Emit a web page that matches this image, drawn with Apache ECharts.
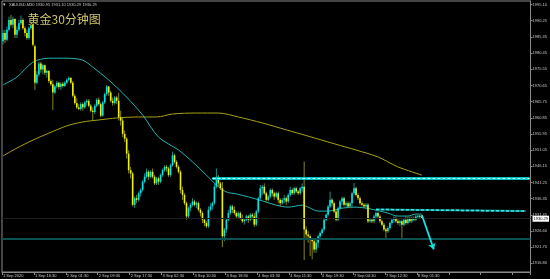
<!DOCTYPE html>
<html><head><meta charset="utf-8">
<script src="https://cdn.jsdelivr.net/npm/echarts@6/dist/echarts.min.js"></script>
<style>html,body{margin:0;padding:0;background:#000;}#c{width:550px;height:279px;}</style>
</head><body><div id="c"></div>
<script>
// ---- data ----
const tickLabels = ['1 Sep 2020','1 Sep 16:30','2 Sep 01:30','2 Sep 09:30','2 Sep 17:30','3 Sep 02:30','3 Sep 10:30','3 Sep 18:30','4 Sep 03:30','4 Sep 11:30','4 Sep 19:30','7 Sep 04:30','7 Sep 12:30','8 Sep 01:30'];
const yTicks = [1995.10,1990.25,1985.35,1980.45,1975.55,1970.65,1965.75,1960.85,1955.95,1951.05,1946.15,1941.25,1936.35,1931.45,1926.60,1921.70,1916.80];
// [open, close, low, high] per 30-min bar
const ohlc = [
[1984,1986.5,1983,1987.5],[1986.5,1984.5,1983.5,1987.5],[1984.5,1987.5,1984,1988.5],[1987.5,1990.5,1987,1991.5],
[1990.5,1989,1988.5,1992],[1989,1990.8,1988,1991.5],[1990.8,1986,1985,1991],[1986,1987.5,1985,1988.5],
[1987.5,1989.5,1987,1990.5],[1989.5,1990.5,1989,1991.8],[1990.5,1988,1987.5,1991],[1988,1986.5,1985.5,1988.5],
[1986.5,1985,1984.5,1987.5],[1985,1988,1984.5,1988.5],[1988,1989.5,1987.5,1991],[1989.5,1983,1982.5,1990],
[1982.5,1971.5,1969.3,1983],[1971.5,1974,1971,1975],[1974,1977.3,1973.3,1977.8],[1977.3,1975.5,1974.5,1977.8],
[1975.5,1976.8,1974,1977.2],[1976.8,1974.5,1973.8,1977],[1974.5,1975,1973,1975.5],[1975,1972,1971.4,1975.3],
[1972,1971,1970.5,1972.5],[1971,1968.5,1963.2,1972.3],[1968.5,1970.3,1968,1970.8],[1970.3,1971.5,1969.8,1972],
[1971.5,1970.2,1969.5,1971.8],[1970.2,1971.2,1969.3,1971.6],[1971.2,1970.5,1970,1971.7],[1970.5,1971.5,1970.2,1972],
[1971.5,1972.4,1971,1972.8],[1972.4,1972.9,1971.8,1973.4],[1972.9,1971.5,1971,1973.2],[1971.5,1967.5,1967,1972],
[1967.5,1965.3,1964.8,1968],[1965.3,1964,1963.5,1966.8],[1964,1963.5,1963.2,1965],[1963.5,1965,1963,1965.5],
[1965,1964,1963,1965.5],[1964,1965.5,1963.5,1966],[1965.5,1966,1964.5,1966.5],[1966,1964.5,1964,1966.5],
[1964.5,1963,1962.5,1965],[1963,1962.6,1960.2,1964],[1962.6,1964.5,1962,1965],[1964.5,1966.3,1964,1966.8],
[1966.3,1965,1964.5,1967],[1965,1961.5,1961,1965.5],[1961.5,1965.5,1961.2,1966],[1965.5,1968,1965,1968.5],
[1968,1970.3,1967.5,1970.8],[1970.3,1968.5,1967.5,1970.5],[1968.5,1966,1965.5,1969],[1966,1965.3,1964.5,1967],
[1965.3,1967,1964.8,1967.5],[1967,1966,1965,1967.5],[1966,1961,1960,1968.4],[1961,1960,1958.5,1963],
[1960,1956,1955,1961],[1956,1954.5,1953.5,1957],[1954.5,1950,1948.5,1955],[1950,1945,1944,1951],
[1945,1944,1942.5,1946],[1944,1934.5,1934,1944.5],[1934.5,1936.5,1933.5,1937],[1936.5,1936,1935,1937.5],
[1936,1938,1935.5,1938.5],[1938,1939,1937,1939.5],[1939,1941.5,1938.5,1942],[1941.5,1943,1941,1944],
[1943,1944.5,1942.5,1945.5],[1944.5,1943,1942,1945],[1943,1944.5,1942.5,1945],[1944.5,1943,1942.5,1945.5],
[1943,1941,1940.5,1943.5],[1941,1942.5,1940.5,1943],[1942.5,1941.5,1940.5,1943],[1941.5,1943.5,1941,1944],
[1943.5,1945,1943,1945.5],[1945,1946,1944.5,1946.5],[1946,1945.5,1944.5,1946.5],[1945.5,1943.5,1943,1946],
[1943.5,1946.5,1943,1947],[1946.5,1949.5,1946,1950.6],[1949.5,1947.5,1947,1950],[1947.5,1946,1945.5,1948],
[1946,1944.5,1944,1946.5],[1944.5,1939,1938,1945],[1939,1937.5,1936,1940],[1937.5,1935,1934.4,1938],
[1935,1931,1930,1935.5],[1931,1933.5,1930.5,1934],[1933.5,1934.5,1932.5,1935],[1934.5,1935.5,1934,1936.5],
[1935.5,1934.5,1934,1936],[1934.5,1935,1933.5,1935.5],[1935,1933,1932.5,1935.5],[1933,1932,1931,1933.5],
[1932,1930,1929,1932.5],[1930,1929,1928,1930.5],[1929,1928,1927.5,1929.5],[1928,1933,1927.5,1934],
[1933,1934,1932.5,1935],[1934,1935,1933,1935.5],[1935,1940,1934.5,1941],[1940,1943,1939.5,1945.5],
[1943,1941,1940,1943.5],[1941,1939.5,1939,1941.5],[1939.5,1925,1921.7,1941.4],[1925,1927,1923.5,1927.5],
[1927,1930,1926,1930.5],[1930,1932,1929.5,1933],[1932,1934,1931.5,1934.5],[1934,1933,1932,1934.5],
[1933,1932,1931.5,1934],[1932,1931,1930.5,1932.5],[1931,1932,1930.5,1932.5],[1932,1930.5,1930,1932.5],
[1930.5,1929.5,1929,1931.5],[1929.5,1930,1928.5,1930.5],[1930,1931,1929.5,1931.5],[1931,1930,1929,1931.5],
[1930,1931.5,1929.5,1932],[1931.5,1931,1930,1932],[1931,1928.5,1927.8,1932],[1928.5,1932.5,1928,1933],
[1932.5,1936.5,1932,1937],[1936.5,1939.5,1936,1940.5],[1939.5,1940,1937.5,1940.5],[1940,1938,1937.5,1941],
[1938,1936,1935.5,1938.5],[1936,1937,1935.5,1937.5],[1937,1939,1936.5,1939.5],[1939,1938,1937,1939.5],
[1938,1937,1936,1938.5],[1937,1938,1936.5,1938.5],[1938,1936,1935,1938.5],[1936,1935,1934,1936.5],
[1935,1936,1934.5,1936.5],[1936,1936.5,1935,1937.5],[1936.5,1935.5,1934.5,1937],[1935.5,1937.5,1935,1938],
[1937.5,1939,1937,1940],[1939,1938,1937.5,1939.5],[1938,1939.5,1937.5,1940],[1939.5,1938.5,1938,1940],
[1938.5,1938,1937.5,1939],[1938,1939.5,1937.5,1940],[1939.5,1940,1938.5,1941],[1940,1927,1917.8,1947.6],
[1927,1925.5,1924.5,1928],[1925.5,1925,1923,1926.5],[1925,1924,1919,1925.5],[1924,1923.5,1918,1924.5],
[1923.5,1921,1920,1924],[1921,1923,1920,1924],[1923,1925,1921.5,1925.5],[1925,1926,1924.5,1926.5],
[1926,1927,1925.5,1927.5],[1927,1930,1926.5,1930.5],[1930,1931.5,1929.5,1932],[1931.5,1934,1931,1934.5],
[1934,1936,1933.5,1938.5],[1936,1935,1934,1936.5],[1935,1932.5,1932,1935.5],[1932.5,1930,1929.5,1933],
[1930,1933.5,1929.5,1934],[1933.5,1935.5,1933,1936],[1935.5,1936.5,1934.5,1937],[1936.5,1934.5,1934,1937],
[1934.5,1935,1933.5,1935.5],[1935,1934,1933.5,1935.5],[1934,1935,1933.5,1935.5],[1935,1938,1933.5,1938.5],
[1938,1939.5,1937.5,1941.1],[1939.5,1937.5,1937,1940],[1937.5,1936.5,1936,1938],[1936.5,1935,1934.5,1937],
[1935,1934.5,1934,1935.5],[1934.5,1934,1933.5,1935],[1934,1934.5,1933.5,1935],[1934.5,1929.5,1929,1935],
[1929.5,1930,1929,1930.5],[1930,1929.5,1929,1930.5],[1929.5,1931,1929,1931.5],[1931,1932,1930.5,1932.5],
[1932,1931,1930.5,1932.5],[1931,1929.5,1929,1931.5],[1929.5,1928.5,1928,1930],[1928.5,1927,1926.5,1929],
[1927,1926.5,1924.5,1927.5],[1926.5,1927.5,1926,1928],[1927.5,1929,1927,1929.5],[1929,1930,1928.5,1930.5],
[1930,1930.5,1929,1931],[1930.5,1929.5,1929,1931],[1929.5,1929,1928.5,1930.5],[1929,1929.5,1928,1930],
[1929.5,1928.5,1924.5,1930],[1928.5,1930,1928,1930.5],[1930,1929,1928.5,1931],[1929,1930.5,1928.5,1931],
[1930.5,1929.5,1929,1931],[1929.5,1930.5,1929,1931],[1930.5,1930,1929.5,1931],[1930,1931,1929.5,1931.5],
[1931,1931.2,1930.3,1931.6],[1931.2,1930.95,1930.5,1931.5],[1930.95,1930.29,1930.29,1931.10]
];
// moving averages read at sampled bars: [barIndex, value]
const maFast = [[0,1970.8],[7,1973.2],[15,1977.7],[23,1978.9],[32,1978.9],[40,1978.3],[45,1976.2],[53,1972.3],[62,1967.1],[70,1961.7],[78,1955.0],[88,1951.1],[95,1947.5],[102,1943.5],[107,1940.5],[112,1938.4],[117,1937.8],[123,1936.9],[130,1935.7],[137,1934.4],[143,1933.8],[150,1934.4],[153,1933.8],[158,1932.6],[163,1932.6],[170,1933.5],[177,1933.8],[182,1933.5],[187,1932.9],[193,1932.0],[198,1931.1],[203,1931.1],[207,1931.7],[210,1931.7]];
const maSlow = [[0,1949.3],[7,1951.7],[15,1954.1],[23,1956.2],[32,1958.4],[40,1959.6],[48,1960.2],[57,1960.8],[68,1961.1],[77,1961.1],[85,1962.0],[97,1962.3],[108,1962.3],[118,1961.1],[130,1959.3],[142,1957.2],[153,1955.3],[166,1953.0],[177,1951.1],[188,1949.0],[198,1946.0],[210,1943.5]];
const resistance = {from: 105, value: 1942.5};
const trendLine = [[187, 1933.1], [262, 1932.6]];
const support = 1924.26;
const lastPrice = 1930.29;
const arrowPath = [[210, 1931.4], [216, 1921.0]];
const slotCount = 265;
const symbolText = 'XAUUSD,M30 1930.95 1931.10 1930.29 1930.29';
const titleText = '黄金30分钟图';

// ---- build ----
const categories = Array.from({length: slotCount}, (_, i) => (i % 16 === 0 && tickLabels[i / 16]) ? tickLabels[i / 16] : '');
const candleData = ohlc.map((r, i) => [i, r[0], r[1], r[2], r[3]]);
const BULL = '#00e8e8', BEAR = '#f2f200', BULLW = '#1c8c8c', BEARW = '#84841a';

function renderCandle(params, api) {
  const i = api.value(0), o = api.value(1), c = api.value(2), l = api.value(3), h = api.value(4);
  const pO = api.coord([i, o]), pC = api.coord([i, c]), pL = api.coord([i, l]), pH = api.coord([i, h]);
  const x = pO[0];
  const up = c >= o;
  const bw = 1.6;
  const top = Math.min(pO[1], pC[1]);
  const hh = Math.max(Math.abs(pO[1] - pC[1]), 1);
  return {type: 'group', children: [
    {type: 'line', shape: {x1: x, y1: pH[1], x2: x, y2: pL[1]}, style: {stroke: up ? BULLW : BEARW, lineWidth: 1}},
    {type: 'rect', shape: {x: x - bw / 2, y: top, width: bw, height: hh}, style: {fill: up ? BULL : BEAR}}
  ]};
}

const chart = echarts.init(document.getElementById('c'), null, {renderer: 'canvas'});
const lastSlot = slotCount - 1;
chart.setOption({
  backgroundColor: '#000',
  animation: false,
  grid: {left: 1, top: 1, width: 531, height: 271, show: true, borderColor: '#8a8a8a', borderWidth: 1, backgroundColor: 'transparent'},
  xAxis: {
    type: 'category', data: categories, boundaryGap: true,
    axisLine: {show: true, lineStyle: {color: '#8a8a8a'}},
    axisTick: {show: true, interval: (i) => i % 16 === 0, length: 3, lineStyle: {color: '#8a8a8a'}},
    axisLabel: {interval: (i) => i % 16 === 0, fontSize: 4, color: '#c8c8c8', align: 'left', margin: 2, fontFamily: 'Liberation Sans'},
    splitLine: {show: false}
  },
  yAxis: {
    type: 'value', position: 'right', min: 1914.16, max: 1996.22, scale: true,
    axisLine: {show: true, lineStyle: {color: '#8a8a8a'}},
    axisTick: {show: true, customValues: yTicks, length: 2, lineStyle: {color: '#8a8a8a'}},
    axisLabel: {customValues: yTicks, formatter: (v) => v.toFixed(2), fontSize: 4, color: '#c8c8c8', margin: 2, fontFamily: 'Liberation Sans'},
    splitLine: {show: false}
  },
  graphic: [
    {type: 'text', left: 3, top: 2, style: {text: '▾', fill: '#c8c8c8', font: '5px "DejaVu Sans"'}},
    {type: 'text', left: 9, top: 2.5, style: {text: symbolText, fill: '#c8c8c8', font: '4px "Liberation Sans"'}},
    {type: 'text', left: 27, top: 13, z: 20, style: {text: titleText, fill: '#cfc56a', font: '12px "Noto Sans CJK SC"', stroke: '#000', lineWidth: 1}}
  ],
  series: [
    {
      type: 'line', name: 'MA slow', data: maSlow, smooth: 0.3, showSymbol: false, z: 2,
      lineStyle: {color: '#a8a214', width: 1}
    },
    {
      type: 'line', name: 'MA fast', data: maFast, smooth: 0.3, showSymbol: false, z: 2,
      lineStyle: {color: '#22b4b4', width: 1},
      markLine: {
        silent: true, symbol: ['none', 'none'], animation: false, precision: 2,
        label: {show: false},
        data: [
          {yAxis: support, lineStyle: {color: '#0c5252', width: 2, type: 'solid'}},
          {yAxis: lastPrice, lineStyle: {color: '#1e1e1e', width: 1, type: 'solid'},
            label: {show: true, position: 'end', formatter: lastPrice.toFixed(2), backgroundColor: '#ffffff', color: '#000', fontSize: 4, padding: [1, 1], distance: 2, fontFamily: 'Liberation Sans'}},
          [{coord: [resistance.from, resistance.value], lineStyle: {color: '#00c6c6', width: 3, type: 'solid'}},
           {coord: [lastSlot, resistance.value], lineStyle: {color: '#00c6c6', width: 3, type: 'solid'}}],
          [{coord: [resistance.from, resistance.value], lineStyle: {color: '#c0ffff', width: 1, type: [3, 2]}},
           {coord: [lastSlot, resistance.value], lineStyle: {color: '#c0ffff', width: 1, type: [3, 2]}}],
          [{coord: trendLine[0], lineStyle: {color: '#0a8a8a', width: 2, type: 'solid'}},
           {coord: trendLine[1], lineStyle: {color: '#0a8a8a', width: 2, type: 'solid'}}],
          [{coord: trendLine[0], lineStyle: {color: '#40e6e6', width: 1.5, type: [3, 2]}},
           {coord: trendLine[1], lineStyle: {color: '#40e6e6', width: 1.5, type: [3, 2]}}],
          [{coord: arrowPath[0], symbol: 'none', lineStyle: {color: '#18e0e0', width: 1.8, type: 'solid'}},
           {coord: arrowPath[1], symbol: 'arrow', symbolSize: 6, lineStyle: {color: '#18e0e0', width: 1.8, type: 'solid'}}]
        ]
      }
    },
    {
      type: 'custom', name: 'XAUUSD', data: candleData, renderItem: renderCandle, z: 3,
      encode: {x: 0, y: [1, 2, 3, 4]}, clip: true
    }
  ]
});
</script></body></html>
